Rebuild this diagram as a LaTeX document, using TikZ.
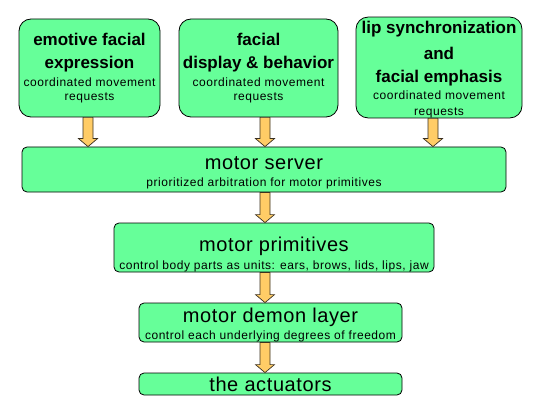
\documentclass[tikz,border=0pt]{standalone}
\usepackage{fontspec}
\setmainfont{Liberation Sans}
\newfontfamily\subfont[LetterSpace=4.5]{Liberation Sans}
\newfontfamily\ttlfont[LetterSpace=3]{Liberation Sans}
\newfontfamily\topfont{Liberation Sans Bold}
\usetikzlibrary{calc}
\definecolor{boxgreen}{HTML}{66FF99}
\definecolor{arrowgold}{HTML}{FFCC66}
\definecolor{arrowedge}{HTML}{3A3020}

% fat block arrow from a point down to the top of a node
\newcommand\fatarrow[2]{%
 \draw[flowarrow] let \p1=(#1), \p2=(#2) in
 (\x1-5pt,\y1) -- (\x1-5pt,\y2+8pt) -- (\x1-9.5pt,\y2+8pt) -- (\x1,\y2)
 -- (\x1+9.5pt,\y2+8pt) -- (\x1+5pt,\y2+8pt) -- (\x1+5pt,\y1) -- cycle;}
\newcommand\toptitle[1]{{\fontsize{17pt}{14pt}\topfont #1}}
\newcommand\midtitle[1]{{\fontsize{20pt}{14pt}\ttlfont #1}}
\newcommand\subline[1]{{\fontsize{12pt}{14pt}\subfont #1}}
\newcommand\lift[1]{\rule{0pt}{#1}}

\begin{document}
\begin{tikzpicture}[x=1pt,y=-1pt,
 topbox/.style={draw=black,line width=.8pt,fill=boxgreen,rounded corners=12pt,
 align=center,inner sep=0pt,font=\fontsize{12pt}{14pt}\selectfont},
 midbox/.style={draw=black,line width=.8pt,fill=boxgreen,rounded corners=5pt,
 align=center,inner sep=0pt,font=\fontsize{12pt}{14pt}\selectfont},
 flowarrow/.style={draw=arrowedge,line width=.7pt,fill=arrowgold,line join=miter}]
\useasboundingbox (0,0) rectangle (541,409);
\node[topbox,minimum width=141pt,minimum height=98pt] (emotive) at (89.5,68)
 {\lift{12.8pt}\toptitle{emotive facial}\\[9pt]\toptitle{expression}\\[3.5pt]
 \subline{coordinated movement}\\\subline{requests}};
\node[topbox,minimum width=159pt,minimum height=98pt] (display) at (258.5,68)
 {\lift{12.8pt}\toptitle{facial}\\[9pt]\toptitle{display \& behavior}\\[3.5pt]
 \subline{coordinated movement}\\\subline{requests}};
\node[topbox,minimum width=166pt,minimum height=97pt] (lipsync) at (439,67.5)
 {\lift{16.5pt}\toptitle{lip synchronization}\\[9pt]\toptitle{and}\\[9pt]\toptitle{facial emphasis}\\[3pt]
 \subline{coordinated movement}\\[2pt]\subline{requests}};
\node[midbox,minimum width=484pt,minimum height=45pt] (server) at (264,169.5)
 {\lift{18.8pt}\midtitle{motor server}\\[2.7pt]\subline{prioritized arbitration for motor primitives}};
\node[midbox,minimum width=320pt,minimum height=49pt] (primitives) at (274,247.5)
 {\lift{27.5pt}\midtitle{motor primitives}\\[4pt]\subline{control body parts as units: ears, brows, lids, lips, jaw}};
\node[midbox,minimum width=263pt,minimum height=39pt] (demon) at (270.5,322.5)
 {\lift{18.5pt}\midtitle{motor demon layer}\\[3pt]\subline{control each underlying degrees of freedom}};
\node[midbox,minimum width=263pt,minimum height=22pt] (actuators) at (270.5,384)
 {\midtitle{the actuators}};
\foreach \a/\b/\s in {emotive/server/-1.5,display/server/6.5,lipsync/server/-6,
 server/primitives/1,primitives/demon/-9,demon/actuators/-5.5}
 \fatarrow{[xshift=\s pt]\a.south}{\b.north};
\end{tikzpicture}
\end{document}
